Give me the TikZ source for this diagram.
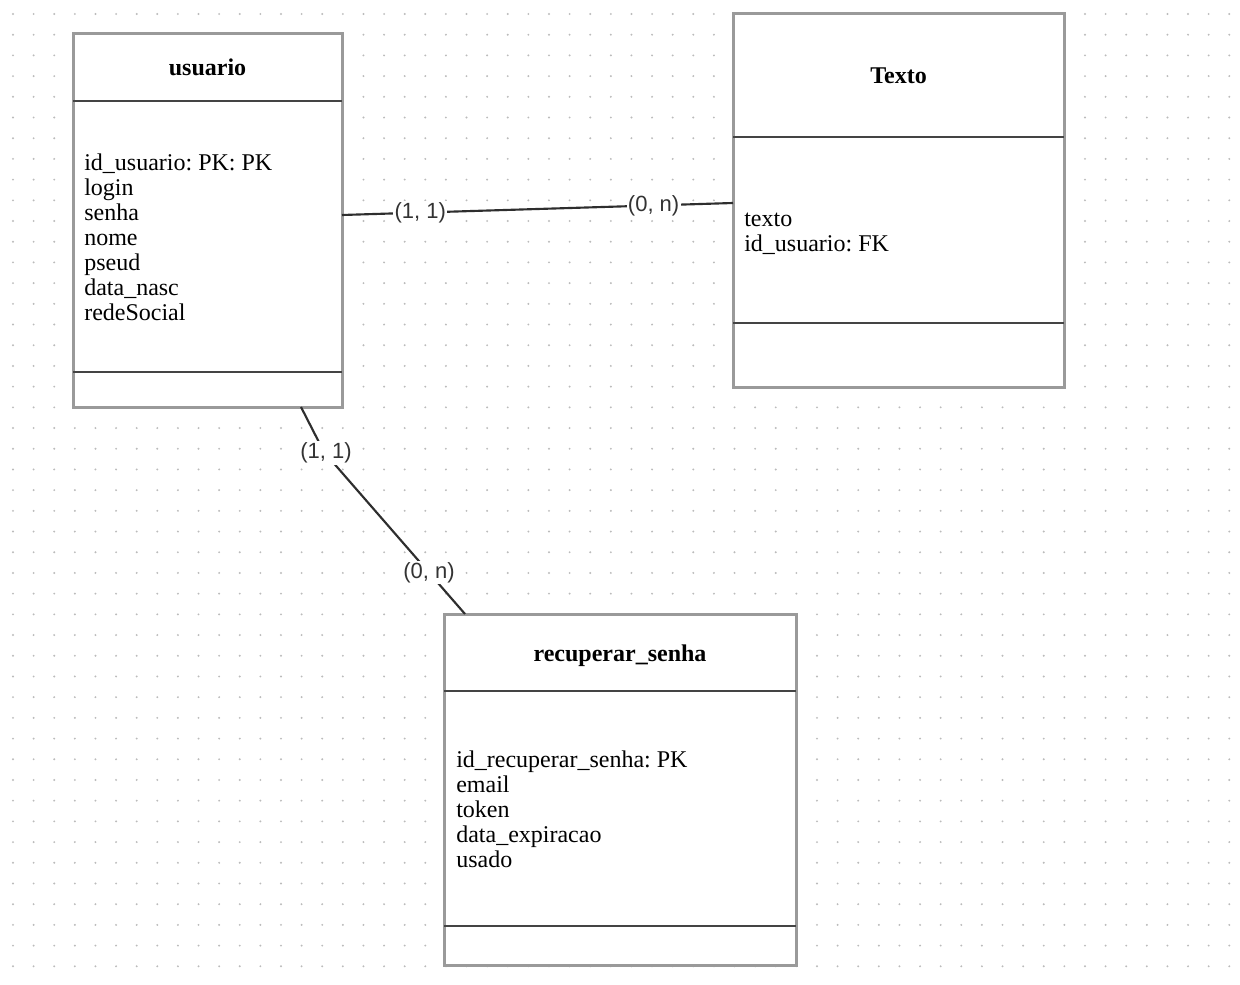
\documentclass[tikz,border=0pt]{standalone}
\usepackage{fontspec}
\setmainfont{Liberation Serif}
\newfontfamily\lblfont{Liberation Sans}
\usetikzlibrary{calc}
\frenchspacing
\definecolor{dotgray}{HTML}{BBBBBB}
\definecolor{boxgray}{HTML}{9A9A9A}
\definecolor{sepgray}{HTML}{444444}
\definecolor{conncol}{HTML}{2E2E2E}
\definecolor{lblcol}{HTML}{333333}
\tikzset{
  tbl/.style={draw=boxgray, line width=2.25pt, fill=white, inner sep=0pt, outer sep=0pt, rectangle},
  sepline/.style={draw=sepgray, line width=1.5pt},
  ttl/.style={font=\fontsize{18pt}{18.75pt}\selectfont\bfseries, inner sep=0pt, anchor=base},
  attr/.style={font=\fontsize{18pt}{18.75pt}\selectfont\frenchspacing, inner sep=0pt, anchor=base west},
  conn/.style={draw=conncol, line width=1.6pt},
  lbl/.style={font=\lblfont\fontsize{16.5pt}{18pt}\selectfont, text=lblcol, fill=white, inner sep=1pt}
}
\begin{document}
\begin{tikzpicture}[x=0.75pt, y=-0.75pt]
\useasboundingbox (0,0) rectangle (1240,985);
\fill[white] (0,0) rectangle (1240,985);
% dotted grid
\foreach \i in {0,...,59}{
  \foreach \j in {0,...,46}{
    \fill[dotgray] ({13+\i*20.615},{14+\j*20.702}) circle[radius=0.8pt];
  }
}
% tables
\node (usuario) [tbl, minimum width=201.75pt, minimum height=280.5pt] at (207.5,220) {};
\node (texto) [tbl, minimum width=248.25pt, minimum height=280.5pt] at (898.5,200) {};
\node (recup) [tbl, minimum width=264pt, minimum height=263.25pt] at (620,789.5) {};
% compartments
\draw[sepline] ($(usuario.north west)+(0,68)$) -- ($(usuario.north east)+(0,68)$);
\draw[sepline] ($(usuario.south west)+(0,-35)$) -- ($(usuario.south east)+(0,-35)$);
\draw[sepline] ($(texto.north west)+(0,124)$) -- ($(texto.north east)+(0,124)$);
\draw[sepline] ($(texto.south west)+(0,-64)$) -- ($(texto.south east)+(0,-64)$);
\draw[sepline] ($(recup.north west)+(0,77)$) -- ($(recup.north east)+(0,77)$);
\draw[sepline] ($(recup.south west)+(0,-39)$) -- ($(recup.south east)+(0,-39)$);
% titles
\node (usuario-t) [ttl] at (207.5,75) {usuario};
\node (texto-t) [ttl] at (898.5,83) {Texto};
\node (recup-t) [ttl] at (620,661) {recuperar\_senha};
% attributes
\foreach \t [count=\i] in {id\_usuario: PK: PK, login, senha, nome, pseud, data\_nasc, redeSocial}{
  \node (ua\i) [attr] at (84,{145+25*\i}) {\t};
}
\foreach \t [count=\i] in {texto, id\_usuario: FK}{
  \node (ta\i) [attr] at (744,{201+25*\i}) {\t};
}
\foreach \t [count=\i] in {id\_recuperar\_senha: PK, email, token, data\_expiracao, usado}{
  \node (ra\i) [attr] at (456,{742+25*\i}) {\t};
}
% connectors
\coordinate (bend) at (324,452);
\draw[conn] ($(usuario.north east)+(0,182)$) -- node (l1) [lbl, pos=0.2] {(1, 1)} node (l2) [lbl, pos=0.797] {(0, n)} ($(texto.north west)+(0,190)$);
\draw[conn] ($(usuario.south west)+(228,0)$) -- (bend) -- node (l4) [lbl, pos=0.745] {(0, n)} ($(recup.north west)+(21,0)$);
\node (l3) [lbl] at ($(bend)+(2,1)$) {(1, 1)};
\end{tikzpicture}
\end{document}
